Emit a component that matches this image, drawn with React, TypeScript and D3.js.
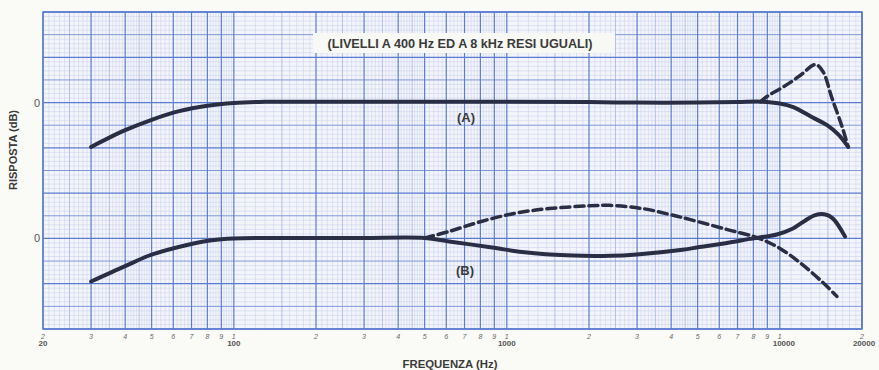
import React from "react";
import * as d3 from "d3";

// ---- data (frequency in Hz, response in dB) ----
const curveAFreq = [30, 40, 50, 63, 80, 100, 130, 200, 400, 1000, 2000, 3000, 5000, 7000, 8500];
const curveADb = [-4.9, -3.05, -1.9, -0.95, -0.35, -0.05, 0.08, 0.1, 0.1, 0.1, 0.05, 0, 0, 0.05, 0.1];
const curveASolidTailFreq = [8500, 10000, 11200, 13200, 14900, 16400, 17800];
const curveASolidTailDb = [0.1, -0.1, -0.5, -1.65, -2.5, -3.55, -4.9];
const curveADashFreq = [8500, 9000, 10000, 10900, 12000, 13500, 14400, 15500, 16900, 17800];
const curveADashDb = [0.1, 0.7, 1.5, 2.2, 3.1, 4.2, 3.4, 0.55, -2.65, -4.9];

const curveBFreq = [30, 40, 50, 68, 83, 100, 130, 200, 300, 500];
const curveBDb = [-4.75, -3.05, -1.8, -0.7, -0.2, 0, 0.05, 0.05, 0.05, 0.05];
const curveBSolidTailFreq = [500, 614, 883, 1138, 1500, 1890, 2400, 2990, 4400, 5080, 6400, 7760, 9750, 11170, 12200, 13400, 14700, 15650, 17340];
const curveBSolidTailDb = [0.05, -0.33, -1.0, -1.5, -1.8, -1.9, -1.92, -1.77, -1.25, -0.95, -0.5, -0.05, 0.44, 1.1, 1.85, 2.55, 2.65, 2.2, 0.2];
const curveBDashFreq = [500, 614, 812, 1082, 1430, 2006, 2377, 3140, 3945, 4670, 6380, 8230, 9750, 11830, 14380, 16180];
const curveBDashDb = [0.05, 0.77, 1.9, 2.8, 3.3, 3.6, 3.65, 3.3, 2.65, 2.1, 1.0, 0.1, -0.9, -2.65, -4.87, -6.4];

const curveBOffset = -15; // curve B drawn 15 dB (3 major divisions) below curve A

const digitTickFreqs = [20, 30, 40, 50, 60, 70, 80, 90, 100, 200, 300, 400, 500, 600, 700, 800, 900, 1000, 2000, 3000, 4000, 5000, 6000, 7000, 8000, 9000, 10000, 20000];
const digitTickLabels = ["2", "3", "4", "5", "6", "7", "8", "9", "1", "2", "3", "4", "5", "6", "7", "8", "9", "1", "2", "3", "4", "5", "6", "7", "8", "9", "1", "2"];
const decadeFreqs = [20, 100, 1000, 10000, 20000];
const decadeLabels = ["20", "100", "1000", "10000", "20000"];

const titleText = "(LIVELLI A 400 Hz ED A 8 kHz RESI UGUALI)";
const xTitle = "FREQUENZA (Hz)";
const yTitle = "RISPOSTA (dB)";

// ---- layout ----
const W = 879;
const H = 370;
const LEFT = 43;
const RIGHT = 862;
const TOP = 12;
const BOTTOM = 329;

const x = d3.scaleLog().domain([20, 20000]).range([LEFT, RIGHT]);
const y = d3.scaleLinear().domain([-25, 10]).range([BOTTOM, TOP]);

const zip = (f: number[], v: number[], off = 0): [number, number][] =>
  f.map((fr, i) => [fr, v[i] + off]);

const line = d3
  .line<[number, number]>()
  .x((d) => x(d[0]))
  .y((d) => y(d[1]))
  .curve(d3.curveCatmullRom.alpha(0.5));

function gridLines() {
  const fine: number[] = [];
  const medium: number[] = [];
  const major: number[] = [];
  [10, 100, 1000, 10000].forEach((dec) => {
    for (let m = 1; m < 10; m++) {
      const f = m * dec;
      if (f >= 20 && f <= 20000) major.push(f);
    }
    for (let k = 10; k < 100; k += k < 50 ? 1 : 2) {
      const f = (k / 10) * dec;
      if (k % 10 === 0) continue;
      if (f <= 20 || f >= 20000) continue;
      if (k % 5 === 0 && k < 50) medium.push(f);
      else fine.push(f);
    }
  });
  major.push(20000);
  const hFine: number[] = [];
  const hMed: number[] = [];
  const hMaj: number[] = [];
  for (let v = -25; v <= 10.001; v += 0.5) {
    const r = Math.round(v * 2) / 2;
    if (Math.abs(r % 5) < 1e-6) hMaj.push(r);
    else if (Math.abs(r % 2.5) < 1e-6) hMed.push(r);
    else hFine.push(r);
  }
  return { fine, medium, major, hFine, hMed, hMaj };
}

export default function App() {
  const g = gridLines();
  const ink = "#2a2e45";
  const textCol = "#3a3a3a";
  const aSolid = zip(curveAFreq, curveADb).concat(zip(curveASolidTailFreq, curveASolidTailDb).slice(1));
  const aDash = zip(curveADashFreq, curveADashDb);
  const bSolid = zip(curveBFreq, curveBDb, curveBOffset).concat(
    zip(curveBSolidTailFreq, curveBSolidTailDb, curveBOffset).slice(1)
  );
  const bDash = zip(curveBDashFreq, curveBDashDb, curveBOffset);

  return (
    <svg
      width={W}
      height={H}
      style={{ position: "absolute", left: 0, top: 0, background: "#fafaf6" }}
    >
      <rect x={LEFT} y={TOP} width={RIGHT - LEFT} height={BOTTOM - TOP} fill="#f3f5fb" />
      {/* fine grid */}
      {g.fine.map((f, i) => (
        <line key={"vf" + i} x1={x(f)} x2={x(f)} y1={TOP} y2={BOTTOM} stroke="#ccd4ec" strokeWidth={0.6} />
      ))}
      {g.hFine.map((v, i) => (
        <line key={"hf" + i} x1={LEFT} x2={RIGHT} y1={y(v)} y2={y(v)} stroke="#ccd4ec" strokeWidth={0.6} />
      ))}
      {g.medium.map((f, i) => (
        <line key={"vm" + i} x1={x(f)} x2={x(f)} y1={TOP} y2={BOTTOM} stroke="#a3b4e0" strokeWidth={0.8} />
      ))}
      {g.hMed.map((v, i) => (
        <line key={"hm" + i} x1={LEFT} x2={RIGHT} y1={y(v)} y2={y(v)} stroke="#7f98d8" strokeWidth={1} />
      ))}
      {g.major.map((f, i) => (
        <line key={"vM" + i} x1={x(f)} x2={x(f)} y1={TOP} y2={BOTTOM} stroke="#5a7bcf" strokeWidth={1.2} />
      ))}
      {g.hMaj.map((v, i) => (
        <line key={"hM" + i} x1={LEFT} x2={RIGHT} y1={y(v)} y2={y(v)} stroke="#5a7bcf" strokeWidth={1.3} />
      ))}
      <rect x={LEFT} y={TOP} width={RIGHT - LEFT} height={BOTTOM - TOP} fill="none" stroke="#5a7bcf" strokeWidth={1.4} />

      {/* title box */}
      <rect x={313} y={33} width={302} height={20} fill="#f8f8f5" />
      <text
        x={460}
        y={47.5}
        textAnchor="middle"
        fontFamily="'Liberation Sans', Arial, sans-serif"
        fontWeight="bold"
        fontSize={12}
        fill={textCol}
        textLength={265}
        lengthAdjust="spacingAndGlyphs"
      >
        {titleText}
      </text>

      {/* curves */}
      <g fill="none" stroke={ink} strokeLinecap="round" strokeLinejoin="round">
        <path d={line(aSolid) || ""} strokeWidth={4} />
        <path d={line(aDash) || ""} strokeWidth={3.5} strokeDasharray="9 5" />
        <path d={line(bSolid) || ""} strokeWidth={4} />
        <path d={line(bDash) || ""} strokeWidth={3.5} strokeDasharray="9 5" />
      </g>

      {/* curve labels */}
      <text x={466} y={122} textAnchor="middle" fontFamily="'Liberation Sans', Arial, sans-serif" fontWeight="bold" fontSize={13} fill={textCol}>
        (A)
      </text>
      <text x={465} y={275} textAnchor="middle" fontFamily="'Liberation Sans', Arial, sans-serif" fontWeight="bold" fontSize={13} fill={textCol}>
        (B)
      </text>

      {/* zero labels */}
      {[0, curveBOffset].map((v, i) => (
        <text key={"z" + i} x={37} y={y(v) + 4} textAnchor="middle" fontFamily="'Liberation Sans', Arial, sans-serif" fontSize={11} fill="#555">
          0
        </text>
      ))}

      {/* y title */}
      <text
        transform={`translate(17,150) rotate(-90)`}
        textAnchor="middle"
        fontFamily="'Liberation Sans', Arial, sans-serif"
        fontWeight="bold"
        fontSize={10}
        fill={textCol}
        textLength={80}
        lengthAdjust="spacingAndGlyphs"
      >
        {yTitle}
      </text>

      {/* x tick digits */}
      {digitTickFreqs.map((f, i) => (
        <text key={"d" + i} x={x(f)} y={339} textAnchor="middle" fontFamily="'Liberation Sans', Arial, sans-serif" fontStyle="italic" fontSize={7} fill="#666">
          {digitTickLabels[i]}
        </text>
      ))}
      {decadeFreqs.map((f, i) => (
        <text key={"dc" + i} x={i === 4 ? 864 : x(f) + (i === 3 ? 4 : 0)} y={346} textAnchor="middle" fontFamily="'Liberation Sans', Arial, sans-serif" fontWeight="bold" fontSize={8} fill="#555">
          {decadeLabels[i]}
        </text>
      ))}

      {/* x title */}
      <text
        x={450}
        y={368}
        textAnchor="middle"
        fontFamily="'Liberation Sans', Arial, sans-serif"
        fontWeight="bold"
        fontSize={10}
        fill={textCol}
        textLength={95}
        lengthAdjust="spacingAndGlyphs"
      >
        {xTitle}
      </text>
    </svg>
  );
}
